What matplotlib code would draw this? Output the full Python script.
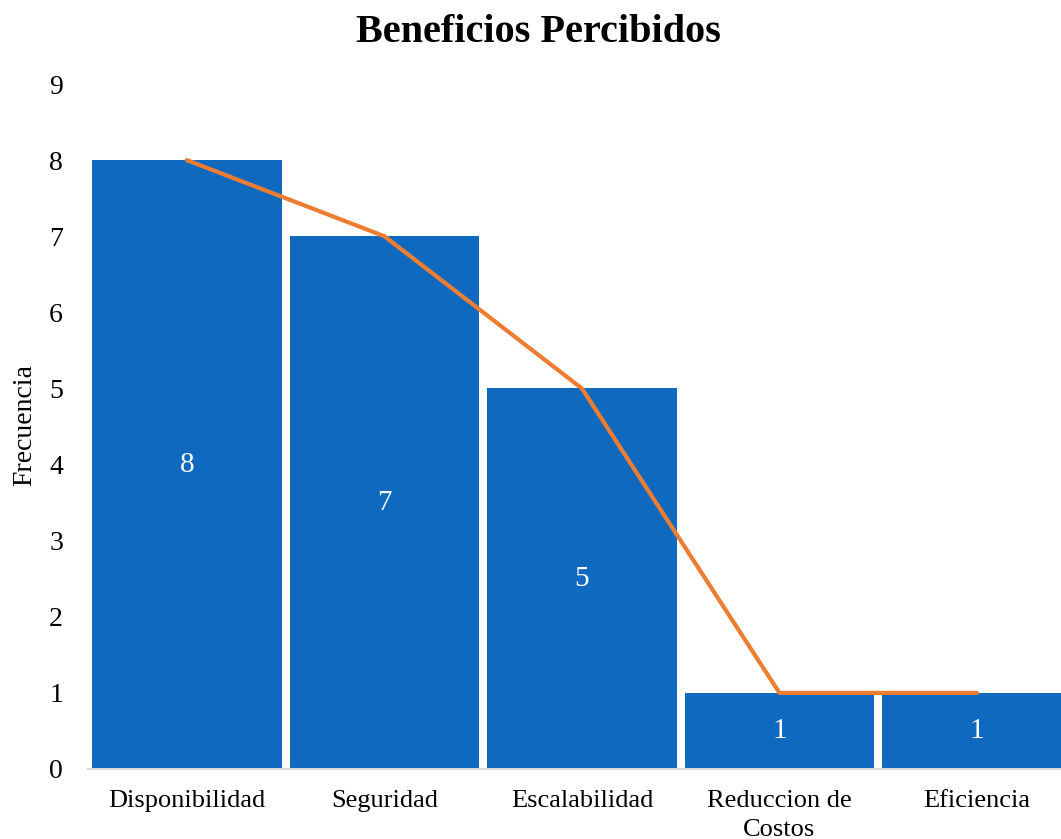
import matplotlib
matplotlib.use("Agg")
import matplotlib.pyplot as plt
import numpy as np

categorias = ["Disponibilidad", "Seguridad", "Escalabilidad", "Reduccion de\nCostos", "Eficiencia"]
frecuencia = [8, 7, 5, 1, 1]
yticks = list(range(0, 10))

plt.rcParams['font.family'] = ['Liberation Serif', 'DejaVu Serif']

fig = plt.figure(figsize=(10.61, 8.39), dpi=100)
ax = fig.add_axes([88/1061, 70/839, 1 - 88/1061, (769-84)/839])

x = np.arange(len(categorias))
bars = ax.bar(x, frecuencia, width=0.96, color='#0F69BE', zorder=2)
ax.plot(x, frecuencia, color='#ED7D31', lw=3, solid_capstyle='round', zorder=3)

for xi, v in zip(x, frecuencia):
    ax.text(xi, v / 2, str(v), ha='center', va='center', color='white', fontsize=21, zorder=4)

ax.set_xlim(-0.5, 4.425)
ax.set_ylim(0, 9)
ax.set_yticks(yticks)
ax.set_xticks(x)
ax.set_xticklabels(categorias, fontsize=19, linespacing=1.4)
ax.tick_params(axis='y', length=0, labelsize=20, pad=18)
ax.tick_params(axis='x', length=0, pad=15)

for s in ['top', 'right', 'left']:
    ax.spines[s].set_visible(False)
ax.spines['bottom'].set_color('#D9D9D9')
ax.spines['bottom'].set_linewidth(1.5)

fig.text(25/1061, 1 - 425/839, "Frecuencia", rotation=90, ha='center', va='center', fontsize=20)
fig.text(538/1061, 1 - 32/839, "Beneficios Percibidos", ha='center', va='center',
         fontsize=29, fontweight='bold')

fig.savefig("out.png", dpi=100)
